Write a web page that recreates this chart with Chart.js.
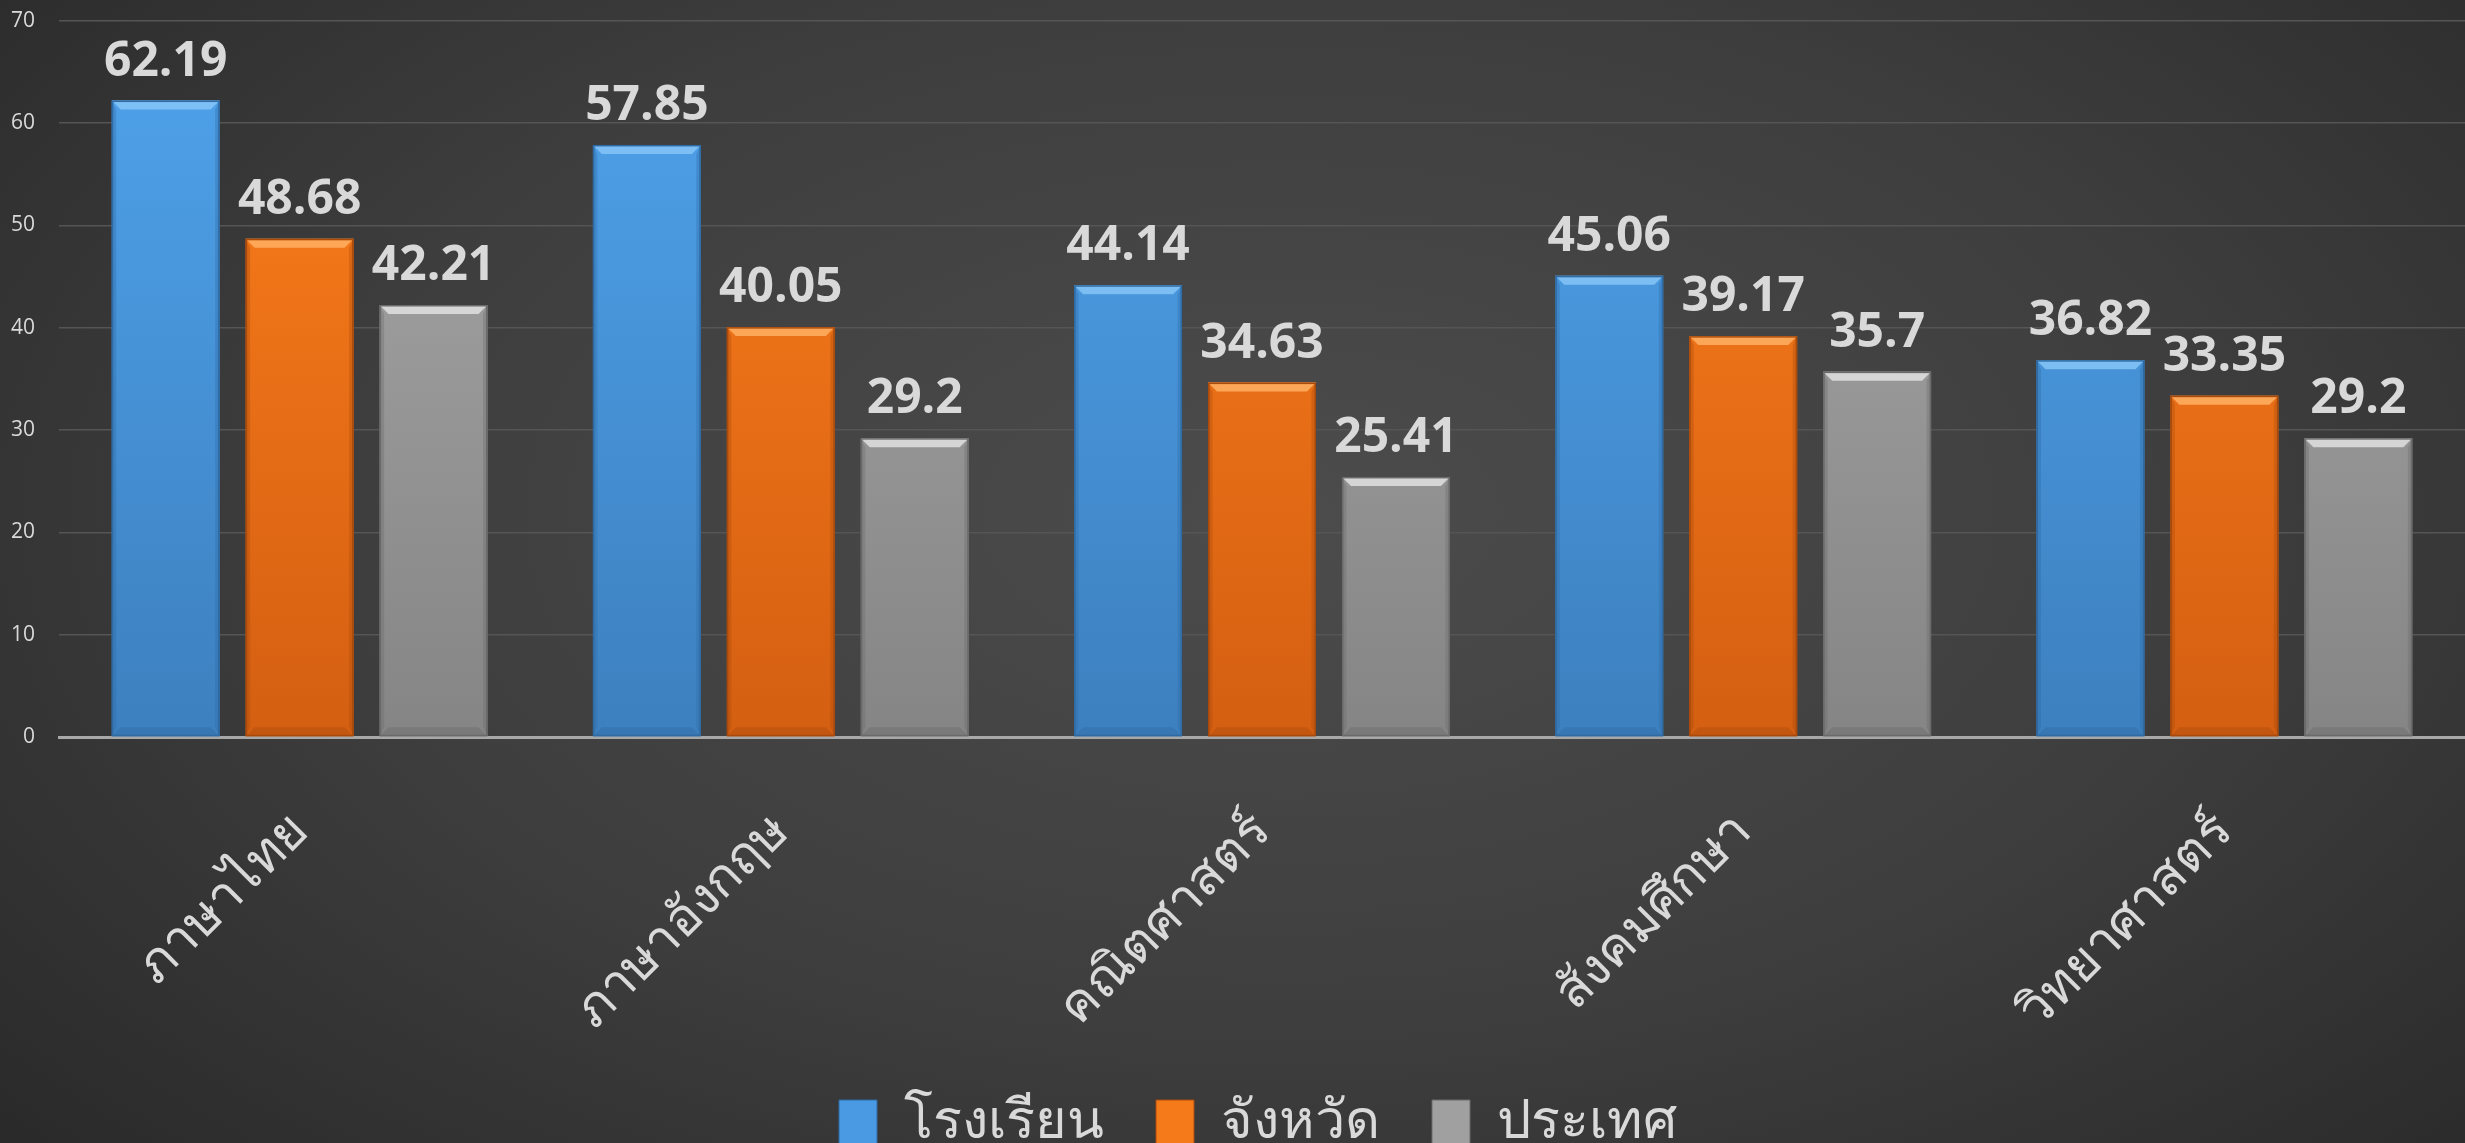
<!DOCTYPE html>
<html>
<head>
<meta charset="utf-8">
<script src="https://cdn.jsdelivr.net/npm/chart.js@4.4.0/dist/chart.umd.min.js"></script>
<style>
  html, body { margin:0; padding:0; width:2465px; height:1143px; overflow:hidden;
    background: radial-gradient(ellipse 75% 90% at 52% 45%, #4c4c4c 0%, #3e3e3e 50%, #262626 100%); }
  #wrap { position:absolute; left:0; top:0; width:2465px; height:1160px; }
</style>
</head>
<body>
<div id="wrap"><canvas id="c"></canvas></div>
<script>
const categories = ['ภาษาไทย', 'ภาษาอังกฤษ', 'คณิตศาสตร์', 'สังคมศึกษา', 'วิทยาศาสตร์'];
const seriesNames = ['โรงเรียน', 'จังหวัด', 'ประเทศ'];
const school   = [62.19, 57.85, 44.14, 45.06, 36.82];
const province = [48.68, 40.05, 34.63, 39.17, 33.35];
const country  = [42.21, 29.2, 25.41, 35.7, 29.2];
const yTicks = [0, 10, 20, 30, 40, 50, 60, 70];

const palette = [
  { top:'#4fa3ec', bottom:'#3d80bf', bevel:'#86c6f7', dark:'#2f6aa3', solid:'#4a9ae3' },
  { top:'#fe801c', bottom:'#d45f12', bevel:'#ffb063', dark:'#a94a0c', solid:'#f57a1a' },
  { top:'#a9a9a9', bottom:'#858585', bevel:'#e0e0e0', dark:'#6a6a6a', solid:'#a0a0a0' }
];

function fillFor(i) {
  return function(ctx) {
    const chart = ctx.chart;
    const area = chart.chartArea;
    if (!area) return palette[i].solid;
    const g = chart.ctx.createLinearGradient(0, area.top, 0, area.bottom);
    g.addColorStop(0, palette[i].top);
    g.addColorStop(1, palette[i].bottom);
    return g;
  };
}

const bevelPlugin = {
  id: 'bevel',
  afterDatasetsDraw(chart) {
    const c = chart.ctx;
    chart.data.datasets.forEach((ds, di) => {
      const meta = chart.getDatasetMeta(di);
      meta.data.forEach(bar => {
        const p = bar.getProps(['x','y','base','width'], true);
        const l = p.x - p.width/2, r = p.x + p.width/2, t = p.y, b = p.base;
        const bv = 9;
        c.save();
        c.fillStyle = palette[di].bevel;
        c.globalAlpha = 0.85;
        c.beginPath();
        c.moveTo(l, t); c.lineTo(r, t); c.lineTo(r - bv, t + bv); c.lineTo(l + bv, t + bv); c.closePath();
        c.fill();
        c.globalAlpha = 0.35;
        c.fillStyle = palette[di].dark;
        c.beginPath();
        c.moveTo(l, t); c.lineTo(l + bv*0.5, t + bv); c.lineTo(l + bv*0.5, b - bv); c.lineTo(l, b); c.closePath(); c.fill();
        c.beginPath();
        c.moveTo(r, t); c.lineTo(r - bv*0.5, t + bv); c.lineTo(r - bv*0.5, b - bv); c.lineTo(r, b); c.closePath(); c.fill();
        c.globalAlpha = 0.4;
        c.beginPath();
        c.moveTo(l, b); c.lineTo(r, b); c.lineTo(r - bv, b - bv); c.lineTo(l + bv, b - bv); c.closePath(); c.fill();
        c.globalAlpha = 1;
        c.strokeStyle = palette[di].dark;
        c.lineWidth = 1.5;
        c.strokeRect(l + 0.75, t + 0.75, p.width - 1.5, b - t - 1.5);
        c.restore();
      });
    });
  }
};

const labelPlugin = {
  id: 'valueLabels',
  afterDatasetsDraw(chart) {
    const c = chart.ctx;
    c.save();
    c.font = 'bold 48px "Open Sans", sans-serif';
    c.fillStyle = '#d9d9d9';
    c.textAlign = 'center';
    c.textBaseline = 'alphabetic';
    chart.data.datasets.forEach((ds, di) => {
      const meta = chart.getDatasetMeta(di);
      meta.data.forEach((bar, i) => {
        const p = bar.getProps(['x','y'], true);
        c.fillText(String(ds.data[i]), p.x, p.y - 25);
      });
    });
    c.restore();
  }
};

const legendShift = {
  id: 'legendShift',
  afterLayout(chart) {
    if (chart.legend) { chart.legend.left += 24; chart.legend.right += 24; }
  }
};

const seriesData = [school, province, country];
new Chart(document.getElementById('c'), {
  type: 'bar',
  data: {
    labels: categories,
    datasets: seriesNames.map((name, i) => ({
      label: name,
      data: seriesData[i],
      backgroundColor: fillFor(i),
      borderWidth: 0,
      categoryPercentage: 0.835,
      barPercentage: 0.806
    }))
  },
  options: {
    responsive: true,
    maintainAspectRatio: false,
    animation: false,
    layout: { padding: { top: 0, left: 3, right: 0, bottom: 0 } },
    scales: {
      x: {
        grid: { display: false },
        border: { display: true, color: '#a8a8a8', width: 3 },
        afterFit(axis) { axis.height = 307; },
        ticks: {
          color: '#d9d9d9',
          font: { family: '"Noto Sans", "DejaVu Sans", sans-serif', size: 52 },
          minRotation: 45, maxRotation: 45,
          padding: 56
        }
      },
      y: {
        min: 0, max: 70,
        afterBuildTicks(axis) { axis.ticks = yTicks.map(v => ({ value: v })); },
        grid: {
          color: '#555555',
          lineWidth: 1.5,
          drawTicks: true,
          tickLength: 16,
          tickColor: 'rgba(0,0,0,0)'
        },
        border: { display: false },
        ticks: {
          color: '#d9d9d9',
          font: { family: '"Open Sans", sans-serif', size: 21 },
          padding: 8
        }
      }
    },
    plugins: {
      legend: {
        position: 'bottom',
        labels: {
          color: '#d9d9d9',
          font: { family: '"Noto Sans", "DejaVu Sans", sans-serif', size: 54 },
          boxWidth: 38,
          boxHeight: 46,
          padding: 52,
          generateLabels(chart) {
            return chart.data.datasets.map((ds, i) => ({
              text: ds.label,
              fillStyle: palette[i].solid,
              strokeStyle: palette[i].dark,
              lineWidth: 1,
              fontColor: '#d9d9d9',
              datasetIndex: i,
              hidden: false
            }));
          }
        }
      },
      tooltip: { enabled: false }
    }
  },
  plugins: [bevelPlugin, labelPlugin, legendShift]
});
</script>
</body>
</html>
